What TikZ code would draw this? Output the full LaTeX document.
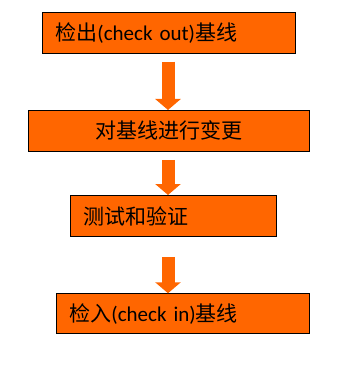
\documentclass[tikz,border=0pt]{standalone}
\usepackage{fontspec}
\setmainfont{Carlito}
\newfontfamily\cjk{Noto Sans CJK SC}
\usetikzlibrary{arrows.meta,calc}
\definecolor{boxorange}{HTML}{FF6600}
\begin{document}
\begin{tikzpicture}[x=1pt,y=-1pt,
  stepbox/.style={draw=black,line width=0.9pt,fill=boxorange,anchor=north west,
    minimum height=41pt,inner ysep=0pt,inner xsep=13pt,
    font=\fontsize{21}{25}\selectfont,text=black},
  flowarrow/.style={draw=boxorange,line width=13pt,-{Triangle[width=25pt,length=11pt]}}]
\useasboundingbox (0,0) rectangle (362,366);
\coordinate (ax) at (168,0);
\node[stepbox,text width=226.7pt,align=left] (b1) at (42,12.3)
  {{\cjk 检出}(check out){\cjk 基线}};
\node[stepbox,text width=254.4pt,align=center,minimum height=40.7pt] (b2) at (28.3,110)
  {\cjk 对基线进行变更};
\node[stepbox,text width=180.6pt,inner xsep=12.7pt,align=left] (b3) at (70,195)
  {\cjk 测试和验证};
\node[stepbox,text width=226.7pt,align=left,minimum height=40pt] (b4) at (56,293.3)
  {{\cjk 检入}(check in){\cjk 基线}};
\draw[flowarrow] ($(b1.south -| ax)+(0,7.4)$) -- (b2.north -| ax);
\draw[flowarrow] ($(b2.south -| ax)+(0,8.3)$) -- (b3.north -| ax);
\draw[flowarrow] ($(b3.south -| ax)+(0,20)$) -- (b4.north -| ax);
\end{tikzpicture}
\end{document}
